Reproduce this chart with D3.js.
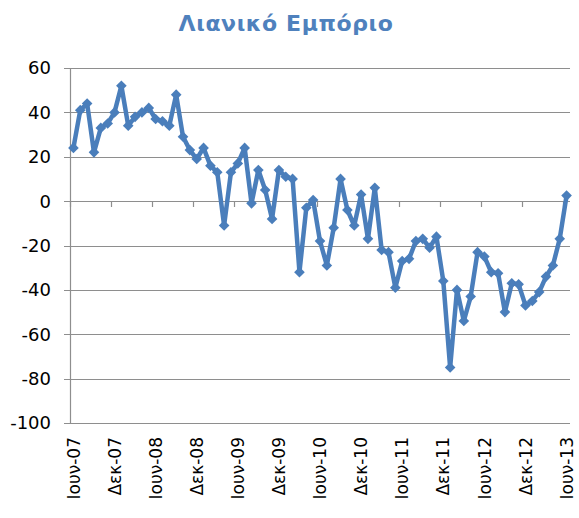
<!DOCTYPE html>
<html>
<head>
<meta charset="utf-8">
<script src="https://cdn.jsdelivr.net/npm/d3@7"></script>
<style>
  body { margin: 0; background: #fff; }
  .grid line { stroke: #8e8e8e; stroke-width: 1.2px; }
  .tickLabel { font-family: "DejaVu Sans", Verdana, sans-serif; fill: #000; }
</style>
</head>
<body>
<script>
//Retail trade index chart (monthly, Jun 2007 - Jun 2013)

//data: one value per month
var months = ["Ιουν","Ιουλ","Αυγ","Σεπ","Οκτ","Νοε","Δεκ","Ιαν","Φεβ","Μαρ","Απρ","Μαϊ"];
var startYear = 7; //first month is Ιουν-07
var values = [24, 41, 44, 22, 33, 35, 40, 52, 34, 38, 40, 42,
              37, 36, 34, 48, 29, 23, 19, 24, 16, 13, -11, 13,
              17, 24, -1, 14, 5, -8, 14, 11, 10, -32, -3, 0.5,
              -18, -29, -12, 10, -4, -11, 3, -17, 6, -22, -23, -39,
              -27, -26, -18, -17, -21, -16, -36, -75, -40, -54, -43, -23,
              -25, -32, -32.5, -50, -37, -37.5, -47, -45, -41, -34, -29, -17,
              2.5];
var yTicks = [-100, -80, -60, -40, -20, 0, 20, 40, 60];
var labelEvery = 6;

//build category names like "Ιουν-07" (new year starts at Ιαν, index 7)
var categories = values.map(function(v, i){
    var m = i % 12;
    var y = startYear + Math.floor((i + 5) / 12);
    return months[m] + "-" + (y < 10 ? "0" + y : y);
});

var width = 579, height = 518;
var plotLeft = 70, plotRight = 570, plotTop = 68, plotBottom = 423;

var svg = d3.select("body").append("svg")
    .attr("width", width)
    .attr("height", height);

//scales
var x = d3.scaleBand()
    .domain(d3.range(values.length))
    .range([plotLeft, plotRight]);

var yScale = d3.scaleLinear()
    .domain([-100, 60])
    .range([plotBottom, plotTop]);

//title
svg.append("text")
    .attr("x", 286)
    .attr("y", 31)
    .attr("text-anchor", "middle")
    .style("font-family", "'DejaVu Sans', Verdana, sans-serif")
    .style("font-weight", "bold")
    .style("font-size", "22px")
    .style("letter-spacing", "0.6px")
    .style("fill", "#4F81BD")
    .text("Λιανικό Εμπόριο");

//horizontal gridlines
svg.append("g")
    .attr("class", "grid")
    .selectAll("line")
    .data(yTicks)
    .enter()
    .append("line")
    .attr("x1", plotLeft - 6)
    .attr("x2", plotRight)
    .attr("y1", function(d){ return Math.round(yScale(d)) + 0.5; })
    .attr("y2", function(d){ return Math.round(yScale(d)) + 0.5; });

//vertical axis line
svg.append("g")
    .attr("class", "grid")
    .append("line")
    .attr("x1", plotLeft + 0.5)
    .attr("x2", plotLeft + 0.5)
    .attr("y1", plotTop)
    .attr("y2", plotBottom);

//y tick labels
svg.selectAll(".yLabel")
    .data(yTicks)
    .enter()
    .append("text")
    .attr("class", "tickLabel")
    .attr("x", plotLeft - 19)
    .attr("y", function(d){ return yScale(d); })
    .attr("dy", "0.36em")
    .attr("text-anchor", "end")
    .style("font-size", "18px")
    .text(function(d){ return d; });

//category tick marks hang from the zero line
var tickIdx = d3.range(0, values.length, labelEvery);
svg.append("g")
    .attr("class", "grid")
    .selectAll("line")
    .data(tickIdx)
    .enter()
    .append("line")
    .attr("x1", function(d){ return Math.round(x(d)) + 0.5; })
    .attr("x2", function(d){ return Math.round(x(d)) + 0.5; })
    .attr("y1", Math.round(yScale(0)))
    .attr("y2", Math.round(yScale(0)) + 6);

//category labels at the bottom, rotated
svg.selectAll(".xLabel")
    .data(tickIdx)
    .enter()
    .append("text")
    .attr("class", "tickLabel")
    .attr("transform", function(d){
        return "translate(" + (x(d) + x.bandwidth() / 2) + "," + (plotBottom + 14) + ") rotate(-90)";
    })
    .attr("dy", "0.36em")
    .attr("text-anchor", "end")
    .style("font-size", "17px")
    .text(function(d){ return categories[d]; });

//the series line
var line = d3.line()
    .x(function(d, i){ return x(i) + x.bandwidth() / 2; })
    .y(function(d){ return yScale(d); });

svg.append("path")
    .datum(values)
    .attr("d", line)
    .style("fill", "none")
    .style("stroke", "#4A7EBB")
    .style("stroke-width", 4.5)
    .style("stroke-linejoin", "round");

//diamond markers
var diamond = d3.symbol().type(d3.symbolDiamond2).size(72);
svg.selectAll(".marker")
    .data(values)
    .enter()
    .append("path")
    .attr("class", "marker")
    .attr("d", diamond)
    .attr("transform", function(d, i){
        return "translate(" + (x(i) + x.bandwidth() / 2) + "," + yScale(d) + ")";
    })
    .style("fill", "#4A7EBB");
</script>
</body>
</html>
